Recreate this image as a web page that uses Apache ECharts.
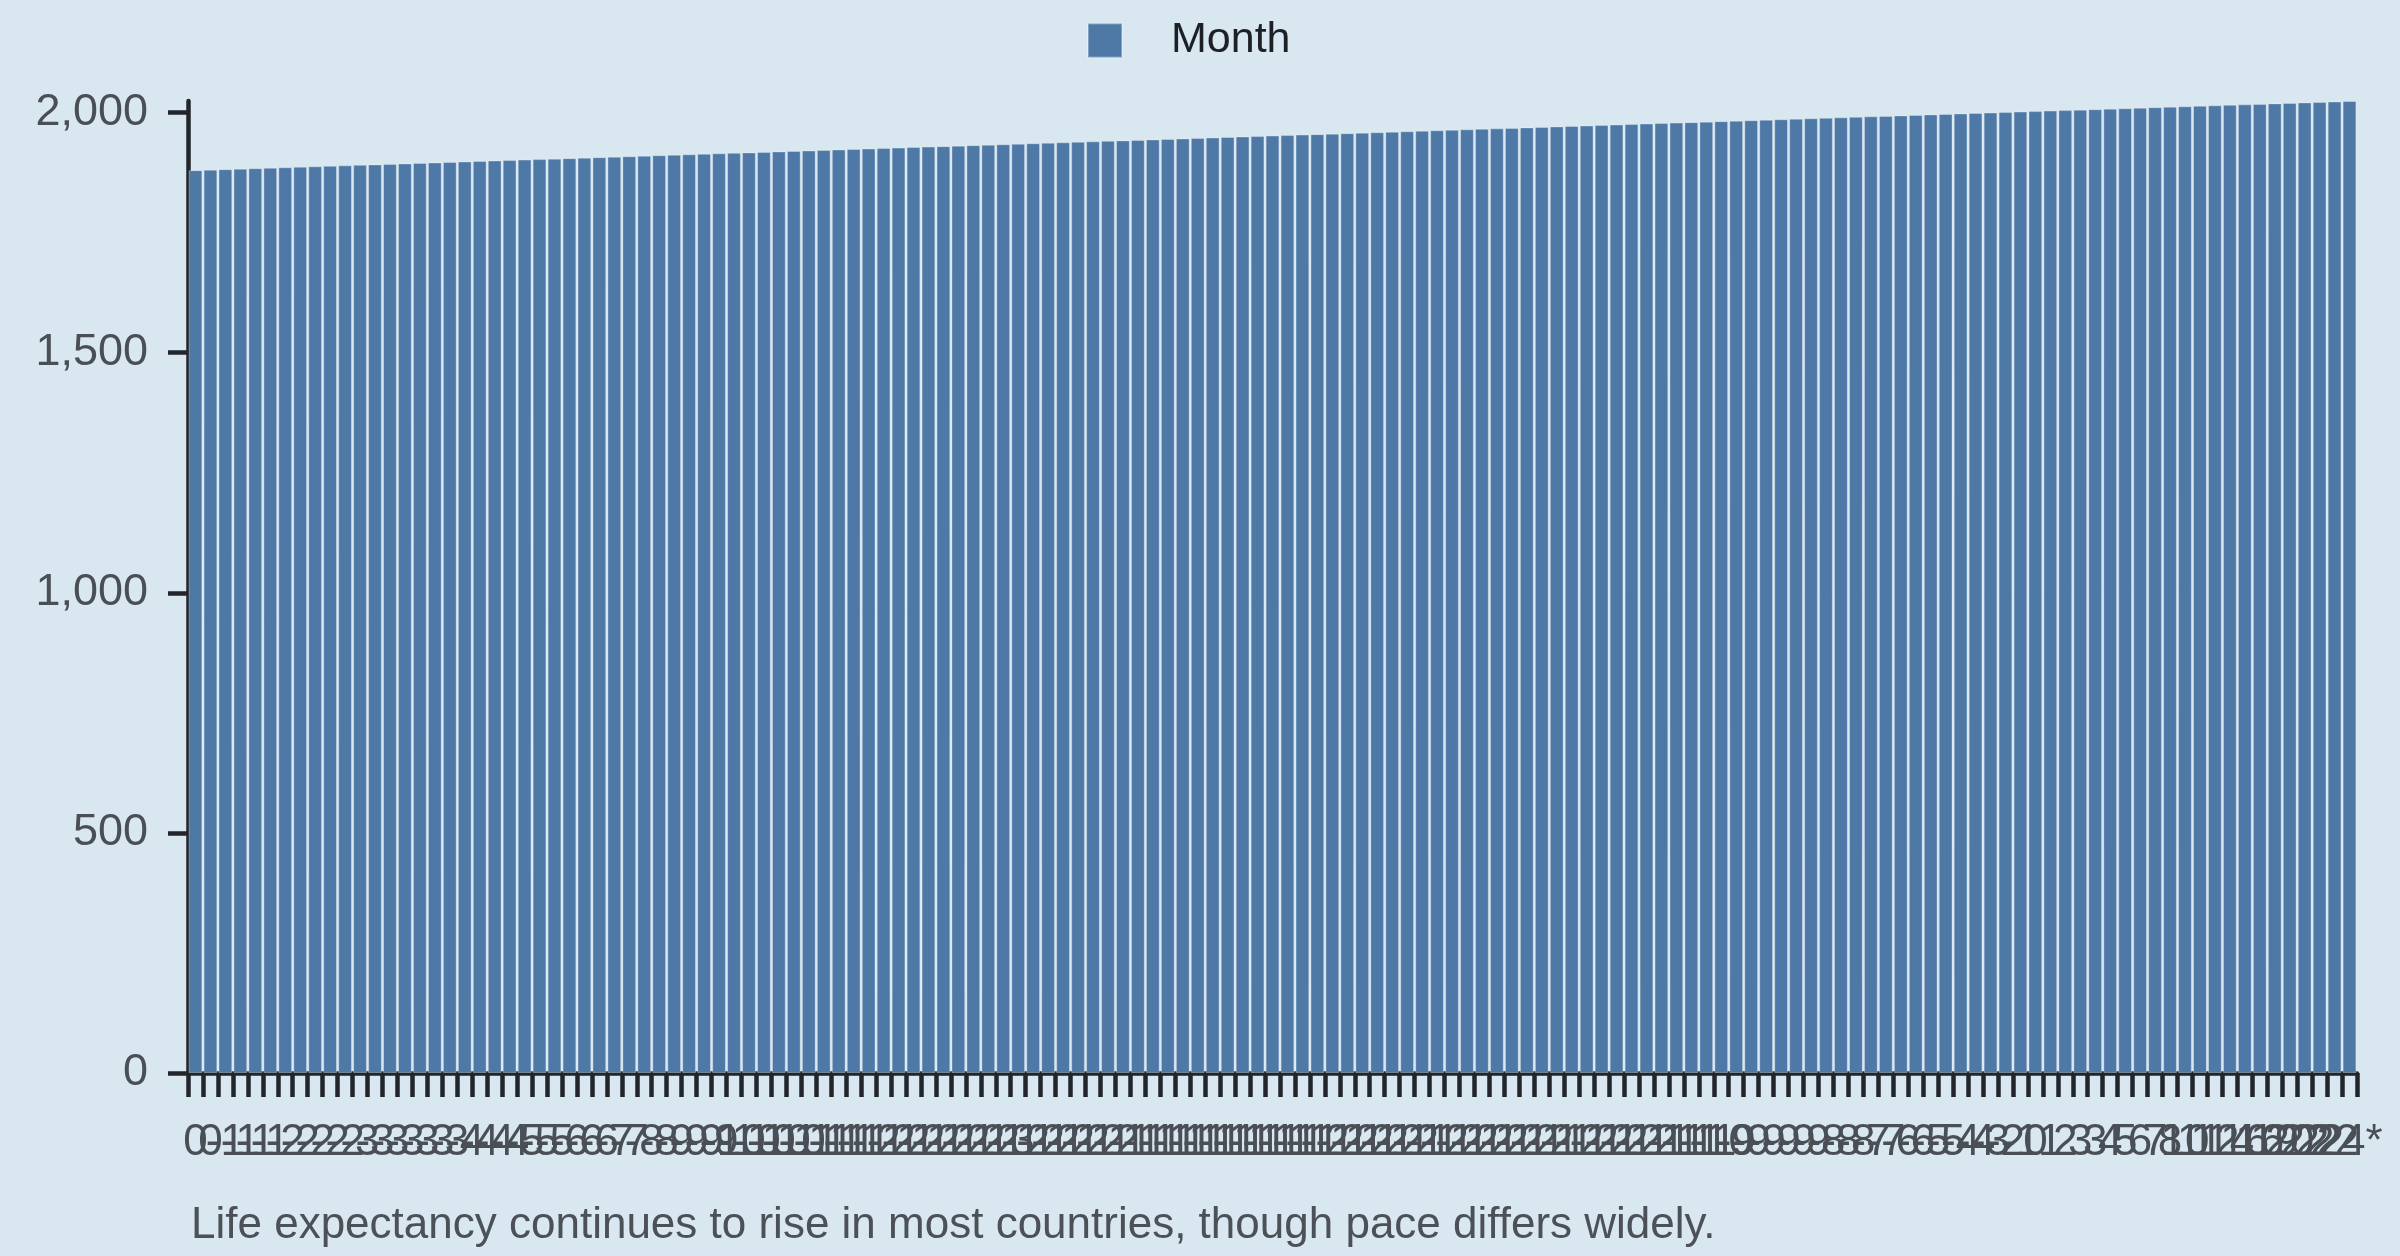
<!DOCTYPE html>
<html>
<head>
<meta charset="utf-8">
<script src="https://cdn.jsdelivr.net/npm/echarts@6.0.0/dist/echarts.min.js"></script>
<style>
html,body{margin:0;padding:0;background:#d9e7f1;}
#chart{width:2400px;height:1256px;}
</style>
</head>
<body>
<div id="chart"></div>
<script>
const categories = [
"0","0","-1","-1","-1","-1","-2","-2","-2","-2",
"-2","-3","-3","-3","-3","-3","-3","-3","-4","-4",
"-4","-4","-5","-5","-5","-6","-6","-6","-7","-7",
"-8","-8","-9","-9","-9","-9","-10","-10","-10","-10",
"-10","-11","-11","-11","-11","-12","-12","-12","-12","-12",
"-12","-12","-12","-12","-13","-12","-12","-12","-12","-12",
"-12","-12","-11","-11","-11","-11","-11","-11","-11","-11",
"-11","-11","-11","-11","-11","-12","-12","-12","-12","-12",
"-12","-12","-11","-12","-12","-12","-12","-12","-12","-12",
"-12","-11","-12","-12","-12","-12","-12","-12","-11","-11",
"-11","-11","-10","-9","-9","-9","-9","-9","-9","-8",
"-8","-8","-7","-7","-6","-6","-5","-5","-4","-4",
"-3","-2","-1","0","1","2","3","3","4","5",
"6","7","8","10","11","12","14","16","16","19",
"20","22","22","22","24*"
];
const monthValues = [
1880,1881,1882,1883,1884,1885,1886,1887,1888,1889,
1890,1891,1892,1893,1894,1895,1896,1897,1898,1899,
1900,1901,1902,1903,1904,1905,1906,1907,1908,1909,
1910,1911,1912,1913,1914,1915,1916,1917,1918,1919,
1920,1921,1922,1923,1924,1925,1926,1927,1928,1929,
1930,1931,1932,1933,1934,1935,1936,1937,1938,1939,
1940,1941,1942,1943,1944,1945,1946,1947,1948,1949,
1950,1951,1952,1953,1954,1955,1956,1957,1958,1959,
1960,1961,1962,1963,1964,1965,1966,1967,1968,1969,
1970,1971,1972,1973,1974,1975,1976,1977,1978,1979,
1980,1981,1982,1983,1984,1985,1986,1987,1988,1989,
1990,1991,1992,1993,1994,1995,1996,1997,1998,1999,
2000,2001,2002,2003,2004,2005,2006,2007,2008,2009,
2010,2011,2012,2013,2014,2015,2016,2017,2018,2019,
2020,2021,2022,2023,2024
];
const yTicks = [0, 500, 1000, 1500, 2000];
const seriesName = "Month";
const caption = "Life expectancy continues to rise in most countries, though pace differs widely.";

const FONT = "'Liberation Sans', Arial, Helvetica, sans-serif";
const AXIS = '#22262b';
const chart = echarts.init(document.getElementById('chart'));
chart.setOption({
  backgroundColor: '#d9e7f1',
  animation: false,
  textStyle: { fontFamily: FONT },
  title: {
    text: caption,
    left: 186,
    top: 1199,
    textStyle: { fontFamily: FONT, fontSize: 44, fontWeight: 'normal', color: '#4b5157' }
  },
  legend: {
    top: 14,
    left: 1082,
    itemWidth: 34,
    itemHeight: 34,
    icon: 'rect',
    textStyle: { fontFamily: FONT, fontSize: 43, color: '#1d2126', padding: [0, 0, 0, 44] },
    data: [seriesName]
  },
  grid: { left: 188, right: 43, top: 101, bottom: 183, containLabel: false },
  xAxis: {
    type: 'category',
    data: categories,
    boundaryGap: true,
    axisLine: { lineStyle: { color: AXIS, width: 4.5 } },
    axisTick: { show: true, interval: 0, length: 24, lineStyle: { color: AXIS, width: 4.5 } },
    axisLabel: { interval: 0, margin: 48, fontSize: 44, color: '#4a4f56', fontFamily: FONT, hideOverlap: false }
  },
  yAxis: {
    type: 'value',
    min: 0,
    max: 'dataMax',
    splitLine: { show: false },
    axisLine: { show: true, lineStyle: { color: AXIS, width: 4.5 } },
    axisTick: { show: true, length: 20, lineStyle: { color: AXIS, width: 4.5 }, customValues: yTicks },
    axisLabel: {
      margin: 40, fontSize: 45, color: '#4a4f56', fontFamily: FONT,
      customValues: yTicks,
      formatter: v => v.toLocaleString('en-US')
    }
  },
  series: [{
    name: seriesName,
    type: 'bar',
    data: monthValues,
    barCategoryGap: '8%',
    itemStyle: { color: '#4e79a7', borderColor: 'rgba(255,255,255,0.3)', borderWidth: 1 }
  }]
});
</script>
</body>
</html>
